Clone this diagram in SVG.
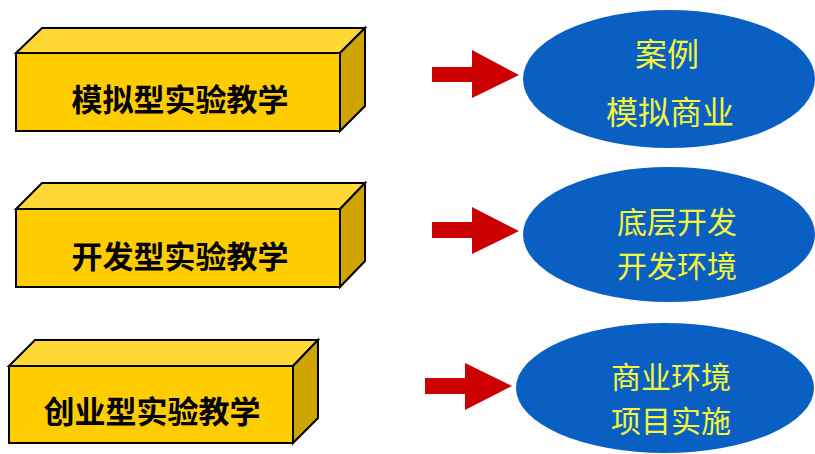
<svg xmlns="http://www.w3.org/2000/svg" width="815" height="454" viewBox="0 0 815 454">
<style>
.front{fill:#FFCC00;stroke:#000;stroke-width:2;stroke-linejoin:miter}
.top{fill:#FFD836;stroke:#000;stroke-width:2}
.side{fill:#CFA300;stroke:#000;stroke-width:2}
.bt{font-family:"Liberation Sans","Noto Sans CJK SC",sans-serif;font-size:31px;font-weight:bold;fill:#000;text-anchor:middle;dominant-baseline:central}
.ell{fill:#0A60C2}
.et{font-family:"Noto Sans CJK SC",sans-serif;font-size:30px;fill:#F5F53A;text-anchor:middle;dominant-baseline:central}
.et1{font-size:32px}
.arr{fill:#CC0000}
</style>
<rect width="815" height="454" fill="#fff"/>
<g id="box1">
<polygon class="top" points="16,53 42,28 365,28 340,53"/>
<polygon class="side" points="340,53 365,28 365,106 340,131"/>
<rect class="front" x="16" y="53" width="324" height="78"/>
<text class="bt" x="180" y="100">模拟型实验教学</text>
</g>
<g id="box2">
<polygon class="top" points="16,209 42,183 365,183 340,209"/>
<polygon class="side" points="340,209 365,183 365,261 340,287"/>
<rect class="front" x="16" y="209" width="324" height="78"/>
<text class="bt" x="180" y="257">开发型实验教学</text>
</g>
<g id="box3">
<polygon class="top" points="9,366 35,340 318,340 293,366"/>
<polygon class="side" points="293,366 318,340 318,418 293,443"/>
<rect class="front" x="9" y="366" width="284" height="77"/>
<text class="bt" x="152" y="412">创业型实验教学</text>
</g>
<g id="connectors">
<polygon class="arr" points="432,67 472,67 472,50 519,75 472,98 472,82 432,82"/>
<polygon class="arr" points="432,222 472,222 472,207 519,231 472,254 472,238 432,238"/>
<polygon class="arr" points="425,378 465,378 465,363 512,386 465,410 465,394 425,394"/>
</g>
<g id="ell1">
<ellipse class="ell" cx="669" cy="79" rx="146" ry="69"/>
<text class="et et1" x="667" y="52">案例</text>
<text class="et et1" x="670" y="110">模拟商业</text>
</g>
<g id="ell2">
<ellipse class="ell" cx="669" cy="234.5" rx="146" ry="67.5"/>
<text class="et" x="677" y="220">底层开发</text>
<text class="et" x="677" y="264">开发环境</text>
</g>
<g id="ell3">
<ellipse class="ell" cx="665" cy="388" rx="149" ry="65"/>
<text class="et" x="671" y="375">商业环境</text>
<text class="et" x="671" y="419">项目实施</text>
</g>
</svg>
